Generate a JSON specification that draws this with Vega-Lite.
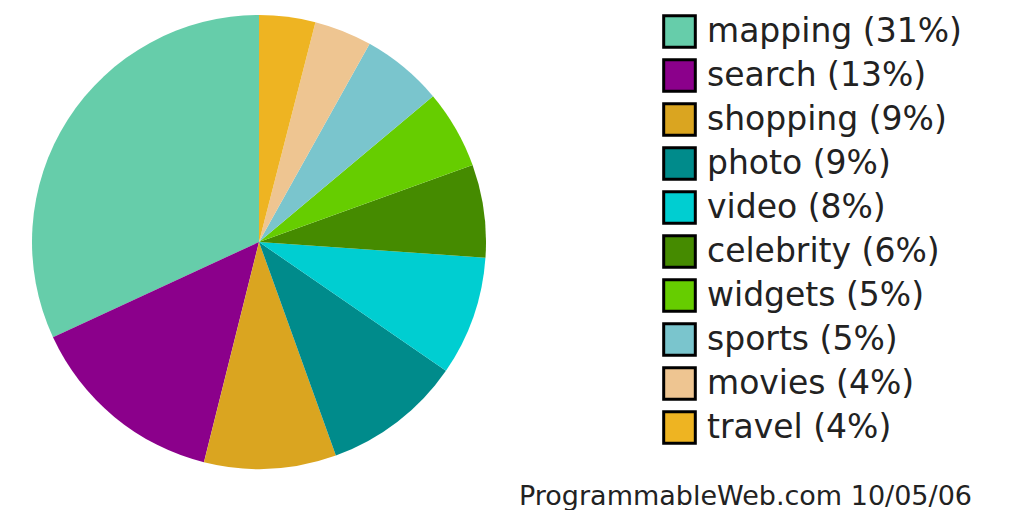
{
  "$schema": "https://vega.github.io/schema/vega-lite/v6.json",
  "width": 454,
  "height": 454,
  "padding": {"left": 32, "top": 14, "right": 0, "bottom": 0},
  "autosize": {"type": "pad"},
  "background": "white",
  "config": {"view": {"stroke": null}},
  "title": {
    "text": "ProgrammableWeb.com 10/05/06",
    "orient": "bottom",
    "anchor": "end",
    "frame": "bounds",
    "fontSize": 27,
    "font": "DejaVu Sans",
    "fontWeight": "normal",
    "color": "#222222",
    "offset": 15,
    "dx": 10
  },
  "data": {
    "values": [
      {"label": "mapping (31%)", "share": 31.9, "rank": 1},
      {"label": "search (13%)", "share": 14.2, "rank": 2},
      {"label": "shopping (9%)", "share": 9.4, "rank": 3},
      {"label": "photo (9%)", "share": 9.9, "rank": 4},
      {"label": "video (8%)", "share": 8.5, "rank": 5},
      {"label": "celebrity (6%)", "share": 6.6, "rank": 6},
      {"label": "widgets (5%)", "share": 5.6, "rank": 7},
      {"label": "sports (5%)", "share": 5.8, "rank": 8},
      {"label": "movies (4%)", "share": 4.1, "rank": 9},
      {"label": "travel (4%)", "share": 4.0, "rank": 10}
    ]
  },
  "mark": {"type": "arc"},
  "encoding": {
    "theta": {"field": "share", "type": "quantitative", "stack": true},
    "order": {"field": "rank", "type": "quantitative", "sort": "descending"},
    "color": {
      "field": "label",
      "type": "nominal",
      "sort": null,
      "scale": {
        "domain": ["mapping (31%)", "search (13%)", "shopping (9%)", "photo (9%)", "video (8%)", "celebrity (6%)", "widgets (5%)", "sports (5%)", "movies (4%)", "travel (4%)"],
        "range": ["#66CDAA", "#8B008B", "#DAA520", "#008B8B", "#00CED1", "#458B00", "#66CD00", "#7AC5CD", "#EEC591", "#EEB422"]
      },
      "legend": {
        "title": null,
        "orient": "none",
        "legendX": 630,
        "legendY": -1,
        "padding": 0,
        "symbolType": "square",
        "symbolSize": 1000,
        "symbolStrokeWidth": 3,
        "symbolStrokeColor": "black",
        "symbolOpacity": 1,
        "labelFont": "DejaVu Sans",
        "labelFontSize": 33,
        "labelColor": "#222222",
        "labelOffset": 10,
        "labelLimit": 400,
        "rowPadding": -1
      }
    }
  }
}
